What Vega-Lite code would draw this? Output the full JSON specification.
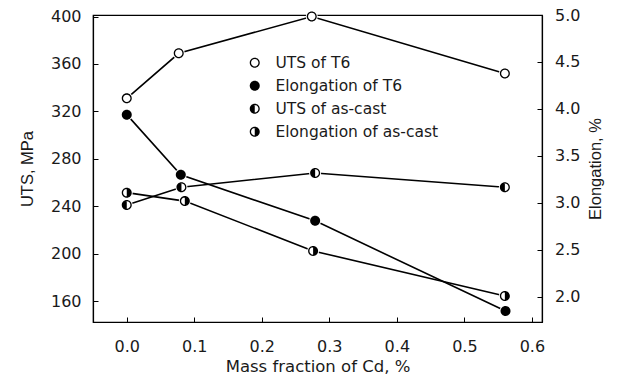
{
  "$schema": "https://vega.github.io/schema/vega-lite/v6.json",
  "width": 449,
  "height": 307,
  "autosize": "none",
  "padding": {"left": 93, "top": 15, "right": 76, "bottom": 56},
  "background": "white",
  "data": {
    "values": [
      {"series": "UTS of  T6", "kind": "UTS", "x": 0.0, "value": 331},
      {"series": "UTS of  T6", "kind": "UTS", "x": 0.077, "value": 369},
      {"series": "UTS of  T6", "kind": "UTS", "x": 0.274, "value": 400},
      {"series": "UTS of  T6", "kind": "UTS", "x": 0.56, "value": 352},
      {"series": "UTS of as-cast", "kind": "UTS", "x": 0.0, "value": 241},
      {"series": "UTS of as-cast", "kind": "UTS", "x": 0.081, "value": 256},
      {"series": "UTS of as-cast", "kind": "UTS", "x": 0.279, "value": 268},
      {"series": "UTS of as-cast", "kind": "UTS", "x": 0.56, "value": 256},
      {"series": "Elongation of T6", "kind": "EL", "x": 0.0, "value": 3.94},
      {"series": "Elongation of T6", "kind": "EL", "x": 0.08, "value": 3.3},
      {"series": "Elongation of T6", "kind": "EL", "x": 0.279, "value": 2.81},
      {"series": "Elongation of T6", "kind": "EL", "x": 0.561, "value": 1.85},
      {"series": "Elongation of as-cast", "kind": "EL", "x": 0.0, "value": 3.11},
      {"series": "Elongation of as-cast", "kind": "EL", "x": 0.086, "value": 3.02},
      {"series": "Elongation of as-cast", "kind": "EL", "x": 0.276, "value": 2.49},
      {"series": "Elongation of as-cast", "kind": "EL", "x": 0.56, "value": 2.01}
    ]
  },
  "encoding": {
    "x": {
      "field": "x",
      "type": "quantitative",
      "scale": {"domain": [-0.05, 0.615], "nice": false, "zero": false},
      "axis": {
        "values": [0, 0.1, 0.2, 0.3, 0.4, 0.5, 0.6],
        "format": ".1f",
        "title": "Mass fraction of Cd,  %",
        "tickSize": -5,
        "labelPadding": 21,
        "titlePadding": 4,
        "labelFlush": false
      }
    }
  },
  "layer": [
    {
      "transform": [{"filter": "datum.kind === 'UTS'"}],
      "encoding": {
        "y": {
          "field": "value",
          "type": "quantitative",
          "scale": {"domain": [142.3, 401.3], "nice": false, "zero": false},
          "axis": {
            "orient": "left",
            "values": [160, 200, 240, 280, 320, 360, 400],
            "title": "UTS, MPa",
            "tickSize": -5,
            "labelPadding": 17,
            "titlePadding": 15,
            "titleFont": "Liberation Sans"
          }
        }
      },
      "layer": [
        {"mark": {"type": "line", "color": "black", "strokeWidth": 1.6}, "encoding": {"detail": {"field": "series"}}},
        {"mark": {"type": "point", "shape": "circle", "filled": true, "fill": "white", "size": 144, "strokeWidth": 0, "opacity": 1}},
        {
          "mark": {"type": "point", "filled": true, "color": "black", "size": 100, "opacity": 1, "strokeWidth": 0},
          "encoding": {
            "shape": {
              "field": "series",
              "type": "nominal",
              "scale": {
                "domain": ["UTS of  T6", "Elongation of T6", "UTS of as-cast", "Elongation of as-cast"],
                "range": [
                  "M0,-1A1,1 0 1,1 0,1A1,1 0 1,1 0,-1ZM0,-0.74A0.74,0.74 0 1,0 0,0.74A0.74,0.74 0 1,0 0,-0.74Z",
                  "M0,-1A1,1 0 1,1 0,1A1,1 0 1,1 0,-1Z",
                  "M0,-1A1,1 0 1,1 0,1A1,1 0 1,1 0,-1ZM0,-0.74A0.74,0.74 0 1,0 0,0.74A0.74,0.74 0 1,0 0,-0.74ZM0,1A1,1 0 0,1 0,-1Z",
                  "M0,-1A1,1 0 1,1 0,1A1,1 0 1,1 0,-1ZM0,-0.74A0.74,0.74 0 1,0 0,0.74A0.74,0.74 0 1,0 0,-0.74ZM0,-1A1,1 0 0,1 0,1Z"
                ]
              },
              "legend": {
                "orient": "none",
                "legendX": 154,
                "legendY": 40,
                "title": null,
                "padding": 0,
                "symbolSize": 100,
                "symbolStrokeWidth": 0,
                "symbolFillColor": "black",
                "symbolOpacity": 1,
                "labelFont": "DejaVu Sans",
                "labelFontSize": 15.5,
                "labelColor": "#1a1a1a",
                "labelOffset": 13,
                "labelLimit": 0,
                "rowPadding": 6
              }
            }
          }
        }
      ]
    },
    {
      "transform": [{"filter": "datum.kind === 'EL'"}],
      "encoding": {
        "y": {
          "field": "value",
          "type": "quantitative",
          "scale": {"domain": [1.734, 5.0], "nice": false, "zero": false},
          "axis": {
            "orient": "right",
            "values": [2.0, 2.5, 3.0, 3.5, 4.0, 4.5, 5.0],
            "format": ".1f",
            "title": "Elongation, %",
            "tickSize": -5,
            "labelPadding": 17.5,
            "titlePadding": 24,
            "titleAngle": -90,
            "titleFont": "Liberation Sans"
          }
        }
      },
      "layer": [
        {"mark": {"type": "line", "color": "black", "strokeWidth": 1.6}, "encoding": {"detail": {"field": "series"}}},
        {"mark": {"type": "point", "shape": "circle", "filled": true, "fill": "white", "size": 144, "strokeWidth": 0, "opacity": 1}},
        {
          "mark": {"type": "point", "filled": true, "color": "black", "size": 100, "opacity": 1, "strokeWidth": 0},
          "encoding": {
            "shape": {
              "field": "series",
              "type": "nominal",
              "scale": {
                "domain": ["UTS of  T6", "Elongation of T6", "UTS of as-cast", "Elongation of as-cast"],
                "range": [
                  "M0,-1A1,1 0 1,1 0,1A1,1 0 1,1 0,-1ZM0,-0.74A0.74,0.74 0 1,0 0,0.74A0.74,0.74 0 1,0 0,-0.74Z",
                  "M0,-1A1,1 0 1,1 0,1A1,1 0 1,1 0,-1Z",
                  "M0,-1A1,1 0 1,1 0,1A1,1 0 1,1 0,-1ZM0,-0.74A0.74,0.74 0 1,0 0,0.74A0.74,0.74 0 1,0 0,-0.74ZM0,1A1,1 0 0,1 0,-1Z",
                  "M0,-1A1,1 0 1,1 0,1A1,1 0 1,1 0,-1ZM0,-0.74A0.74,0.74 0 1,0 0,0.74A0.74,0.74 0 1,0 0,-0.74ZM0,-1A1,1 0 0,1 0,1Z"
                ]
              },
              "legend": {
                "orient": "none",
                "legendX": 154,
                "legendY": 40,
                "title": null,
                "padding": 0,
                "symbolSize": 100,
                "symbolStrokeWidth": 0,
                "symbolFillColor": "black",
                "symbolOpacity": 1,
                "labelFont": "DejaVu Sans",
                "labelFontSize": 15.5,
                "labelColor": "#1a1a1a",
                "labelOffset": 13,
                "labelLimit": 0,
                "rowPadding": 6
              }
            }
          }
        }
      ]
    }
  ],
  "resolve": {"scale": {"y": "independent"}},
  "config": {
    "view": {"stroke": "black", "strokeWidth": 1.2},
    "axis": {
      "grid": false,
      "domainColor": "black",
      "domainWidth": 1.2,
      "tickColor": "black",
      "tickWidth": 1,
      "labelFont": "DejaVu Sans",
      "labelFontSize": 16,
      "labelColor": "#1a1a1a",
      "titleFont": "DejaVu Sans",
      "titleFontSize": 16.5,
      "titleFontWeight": "normal",
      "titleColor": "#1a1a1a"
    }
  }
}
